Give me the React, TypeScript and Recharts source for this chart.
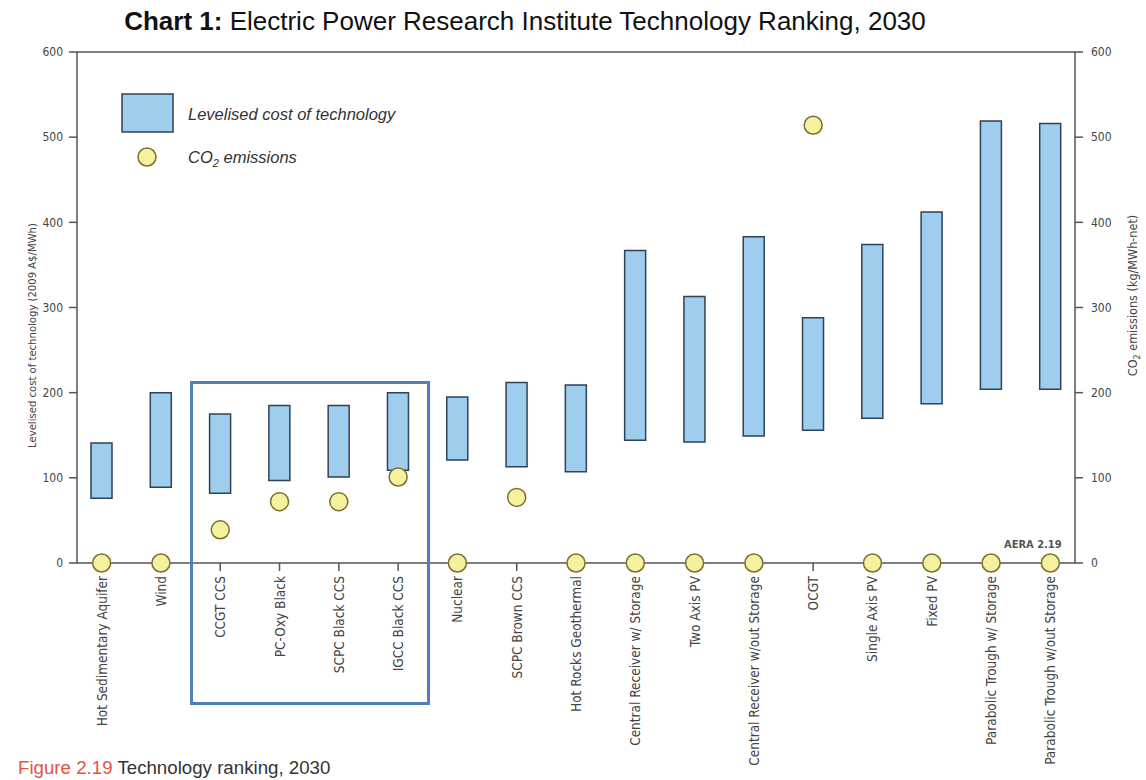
import React from 'react';
import { ComposedChart, Bar, Line, XAxis, YAxis, ReferenceLine, Legend } from 'recharts';

const technologies = [
  'Hot Sedimentary Aquifer',
  'Wind',
  'CCGT CCS',
  'PC-Oxy Black',
  'SCPC Black CCS',
  'IGCC Black CCS',
  'Nuclear',
  'SCPC Brown CCS',
  'Hot Rocks Geothermal',
  'Central Receiver w/ Storage',
  'Two Axis PV',
  'Central Receiver w/out Storage',
  'OCGT',
  'Single Axis PV',
  'Fixed PV',
  'Parabolic Trough w/ Storage',
  'Parabolic Trough w/out Storage',
];
const costLow = [76, 89, 82, 97, 101, 109, 121, 113, 107, 144, 142, 149, 156, 170, 187, 204, 204];
const costHigh = [141, 200, 175, 185, 185, 200, 195, 212, 209, 367, 313, 383, 288, 374, 412, 519, 516];
const co2Emissions = [0, 0, 39, 72, 72, 101, 0, 77, 0, 0, 0, 0, 514, 0, 0, 0, 0];
const yTicks = [0, 100, 200, 300, 400, 500, 600];

const data = technologies.map((name, i) => ({
  name,
  cost: [costLow[i], costHigh[i]],
  co2: co2Emissions[i],
}));

const NARROW = '"Liberation Sans Narrow", "DejaVu Sans Condensed", "Liberation Sans", Arial, sans-serif';
const SANS = '"Liberation Sans", Arial, sans-serif';
const AXIS = '#555';
const TXT = '#444';
const BAR_FILL = '#9fcdee';
const BAR_STROKE = '#2f4257';
const DOT_FILL = '#f6f19e';
const DOT_STROKE = '#7d6e2c';

const XTick = (props: any) => {
  const { x, y, payload } = props;
  const ty = y + 3;
  return (
    <text
      x={x}
      y={ty}
      transform={`rotate(-90 ${x} ${ty})`}
      textAnchor="end"
      dominantBaseline="central"
      fontFamily={NARROW}
      fontSize={13.5}
      fill={TXT}
    >
      {payload.value}
    </text>
  );
};

const LeftTitle = (props: any) => {
  const vb = props.viewBox || {};
  const x = vb.x + 32;
  const y = vb.y + vb.height / 2 + 28;
  return (
    <text
      x={x}
      y={y}
      transform={`rotate(-90 ${x} ${y})`}
      textAnchor="middle"
      dominantBaseline="central"
      fontFamily={NARROW}
      fontSize={11.2}
      fill={TXT}
    >
      Levelised cost of technology (2009 A$/MWh)
    </text>
  );
};

const RightTitle = (props: any) => {
  const vb = props.viewBox || {};
  const x = vb.x + 57;
  const y = vb.y + vb.height / 2 - 12;
  return (
    <text
      x={x}
      y={y}
      transform={`rotate(-90 ${x} ${y})`}
      textAnchor="middle"
      dominantBaseline="central"
      fontFamily={NARROW}
      fontSize={12.5}
      fill={TXT}
    >
      CO<tspan baselineShift="sub" fontSize={9}>2</tspan> emissions (kg/MWh-net)
    </text>
  );
};

const LegendContent = () => (
  <svg width={340} height={90} style={{ overflow: 'visible' }}>
    <rect x={7} y={6} width={51} height={38} fill={BAR_FILL} stroke={BAR_STROKE} strokeWidth={1.5} />
    <text x={73} y={26} dominantBaseline="central" fontFamily={SANS} fontStyle="italic" fontSize={16.5} fill="#333">
      Levelised cost of technology
    </text>
    <circle cx={32} cy={69} r={9} fill={DOT_FILL} stroke={DOT_STROKE} strokeWidth={1.5} />
    <text x={73} y={69} dominantBaseline="central" fontFamily={SANS} fontStyle="italic" fontSize={16.5} fill="#333">
      CO<tspan baselineShift="sub" fontSize={11}>2</tspan> emissions
    </text>
  </svg>
);

export default function App() {
  return (
    <div style={{ position: 'absolute', left: 0, top: 0, width: 1146, height: 780, background: '#fff', overflow: 'hidden' }}>
      <div
        style={{
          position: 'absolute',
          left: 0,
          top: 6,
          width: 1050,
          textAlign: 'center',
          fontFamily: SANS,
          fontSize: 26,
          color: '#111',
          whiteSpace: 'nowrap',
          zIndex: 2,
        }}
      >
        <b>Chart 1:</b> Electric Power Research Institute Technology Ranking, 2030
      </div>
      <ComposedChart
        width={1146}
        height={780}
        data={data}
        margin={{ top: 52, right: 0, left: 0, bottom: 0 }}
      >
        <XAxis
          dataKey="name"
          xAxisId={0}
          interval={0}
          height={217}
          tick={<XTick />}
          tickSize={8}
          tickLine={{ stroke: AXIS, strokeWidth: 1.5 }}
          axisLine={{ stroke: AXIS, strokeWidth: 1.5 }}
          padding={{ left: -5, right: -5 }}
        />
        <YAxis
          yAxisId="left"
          orientation="left"
          width={77}
          domain={[0, 600]}
          ticks={yTicks}
          tickSize={8}
          tickMargin={6}
          tick={{ fontFamily: NARROW, fontSize: 12, fill: TXT }}
          tickLine={{ stroke: AXIS, strokeWidth: 1.5 }}
          axisLine={{ stroke: AXIS, strokeWidth: 1.5 }}
          label={{ content: LeftTitle }}
        />
        <YAxis
          yAxisId="right"
          orientation="right"
          width={71}
          domain={[0, 600]}
          ticks={yTicks}
          tickSize={8}
          tickMargin={8}
          tick={{ fontFamily: NARROW, fontSize: 12, fill: TXT }}
          tickLine={{ stroke: AXIS, strokeWidth: 1.5 }}
          axisLine={{ stroke: AXIS, strokeWidth: 1.5 }}
          label={{ content: RightTitle }}
        />
        <ReferenceLine yAxisId="left" y={600} stroke={AXIS} strokeWidth={1.5} />
        <Legend
          content={LegendContent}
          layout="horizontal"
          align="center"
          verticalAlign="middle"
          wrapperStyle={{ left: 115, top: 88, width: 340, height: 90 }}
        />
        <Bar
          yAxisId="left"
          dataKey="cost"
          name="Levelised cost of technology"
          barSize={21}
          fill={BAR_FILL}
          stroke={BAR_STROKE}
          strokeWidth={1.5}
          isAnimationActive={false}
        />
        <Line
          yAxisId="right"
          dataKey="co2"
          name="CO2 emissions"
          stroke="none"
          strokeWidth={0}
          dot={{ r: 9, fill: DOT_FILL, stroke: DOT_STROKE, strokeWidth: 1.5 }}
          activeDot={false}
          isAnimationActive={false}
        />
      </ComposedChart>
      <div
        style={{
          position: 'absolute',
          left: 190,
          top: 381,
          width: 240,
          height: 324,
          boxSizing: 'border-box',
          border: '3px solid #4f7fc0',
          pointerEvents: 'none',
        }}
      />
      <div
        style={{
          position: 'absolute',
          left: 1004,
          top: 538,
          fontFamily: NARROW,
          fontWeight: 'bold',
          fontSize: 11,
          color: '#555',
          whiteSpace: 'nowrap',
        }}
      >
        AERA 2.19
      </div>
      <div
        style={{
          position: 'absolute',
          left: 18,
          top: 757,
          fontFamily: SANS,
          fontSize: 18.7,
          color: '#333',
          whiteSpace: 'nowrap',
        }}
      >
        <span style={{ color: '#e2543f' }}>Figure 2.19</span> Technology ranking, 2030
      </div>
    </div>
  );
}
